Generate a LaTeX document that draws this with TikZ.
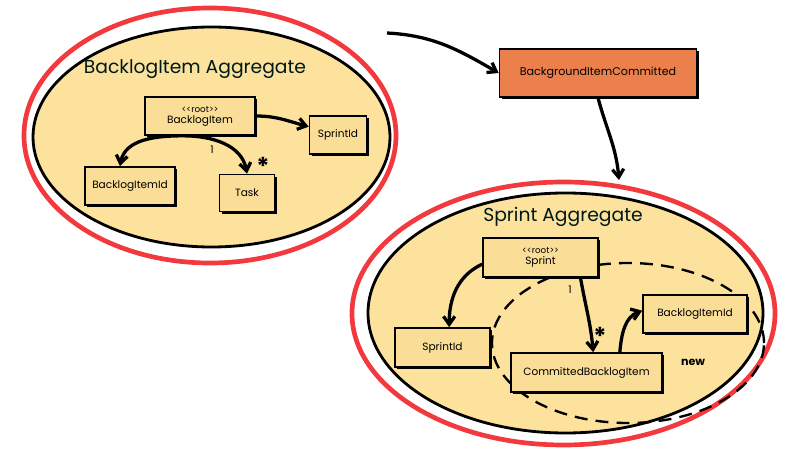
\documentclass[tikz,border=0pt]{standalone}
\usepackage{fontspec}
\setmainfont{Poppins}
\usetikzlibrary{shapes.geometric,arrows.meta,shadows}
\definecolor{ringRed}{RGB}{242,58,62}
\definecolor{aggFill}{RGB}{252,226,156}
\definecolor{boxFill}{RGB}{250,221,150}
\definecolor{eventFill}{RGB}{236,128,76}
\begin{document}
\begin{tikzpicture}[x=0.03cm, y=-0.03cm, >={Straight Barb[length=2.4mm,width=3.4mm]},
    ringStyle/.style={ellipse, draw=ringRed, line width=4pt, fill=white, inner sep=0pt},
    aggStyle/.style={ellipse, draw, line width=2.4pt, fill=aggFill, inner sep=0pt},
    newStyle/.style={ellipse, draw, dash pattern=on 11pt off 7pt, line width=2pt, inner sep=0pt},
    boxStyle/.style={rectangle, draw, line width=1.4pt, fill=boxFill, align=center, font=\fontsize{9}{9.5}\selectfont, inner sep=1pt,
        drop shadow={shadow xshift=0.07cm, shadow yshift=-0.07cm, fill=black, opacity=1}},
    eventStyle/.style={boxStyle, fill=eventFill, font=\fontsize{9.5}{10}\selectfont},
    titleStyle/.style={font=\fontsize{16}{17}\selectfont, text=black!80!teal},
    multStyle/.style={font=\fontsize{9}{10}\selectfont},
    manyStyle/.style={font=\fontsize{21}{21}\selectfont\bfseries},
    linkStyle/.style={->, line width=2.8pt}]
    \useasboundingbox (0,0) rectangle (800,458);

    % BacklogItem aggregate
    \node[ringStyle, minimum width=11.16cm, minimum height=7.65cm] (bl_ring) at (210, 135.5) {};
    \node[aggStyle,  minimum width=10.71cm, minimum height=6.6cm]  (bl_agg)  at (211.5, 137) {};
    \node[titleStyle] (bl_title) at (195, 69) {BacklogItem Aggregate};

    \node[boxStyle, minimum width=3.3cm,  minimum height=1.14cm] (bl_root)     at (200, 116) {{\fontsize{7.5}{7.5}\selectfont <{}<root>{}>}\\BacklogItem};
    \node[boxStyle, minimum width=1.71cm, minimum height=1.14cm] (bl_sprintid) at (338, 135) {SprintId};
    \node[boxStyle, minimum width=2.7cm,  minimum height=1.14cm] (bl_itemid)   at (130, 186) {BacklogItemId};
    \node[boxStyle, minimum width=1.65cm, minimum height=1.11cm] (bl_task)     at (247, 193) {Task};

    \draw[linkStyle] ([xshift=-0.5cm]bl_root.south) to[out=180, in=80] ([xshift=-0.3cm]bl_itemid.north);
    \draw[linkStyle] ([xshift=-0.5cm]bl_root.south) to[out=0, in=100] (bl_task.north);
    \draw[linkStyle] (bl_root.east) to[out=0, in=165] ([yshift=0.25cm]bl_sprintid.west);
    \node[multStyle] (bl_one)  at (212, 150) {1};
    \node[manyStyle] (bl_many) at (263, 166) {*};

    % domain event
    \coordinate (ev_start) at (387, 33);
    \coordinate (ev_end)   at (619, 180);
    \node[eventStyle, minimum width=5.91cm, minimum height=1.44cm] (ev_committed) at (598, 73) {BackgroundItemCommitted};
    \draw[linkStyle] (ev_start) to[out=-3, in=150] (ev_committed.west);
    \draw[linkStyle] (ev_committed.south) to[out=-75, in=95] (ev_end);

    % Sprint aggregate
    \node[ringStyle, minimum width=12.69cm, minimum height=7.89cm] (sp_ring) at (563.5, 313.5) {};
    \node[aggStyle,  minimum width=11.85cm, minimum height=7.2cm]  (sp_agg)  at (565.5, 313) {};
    \node[titleStyle] (sp_title) at (563, 217) {Sprint Aggregate};
    \node[newStyle, minimum width=8.16cm, minimum height=4.8cm] (sp_new) at (628, 343) {};

    \node[boxStyle, minimum width=3.45cm, minimum height=1.17cm] (sp_root)      at (540.5, 257.5) {{\fontsize{7.5}{7.5}\selectfont <{}<root>{}>}\\Sprint};
    \node[boxStyle, minimum width=2.85cm, minimum height=1.17cm] (sp_sprintid)  at (442.5, 347.5) {SprintId};
    \node[boxStyle, minimum width=4.53cm, minimum height=1.17cm] (sp_committed) at (586.5, 372.5) {CommittedBacklogItem};
    \node[boxStyle, minimum width=3.12cm, minimum height=1.14cm] (sp_itemid)    at (695, 314) {BacklogItemId};
    \node[font=\fontsize{9.5}{10}\selectfont\bfseries] (sp_newlabel) at (693, 362) {new};

    \draw[linkStyle] ([yshift=-0.2cm]sp_root.west) to[out=205, in=90] ([xshift=0.2cm]sp_sprintid.north);
    \draw[linkStyle] ([xshift=1.2cm]sp_root.south) to[out=-80, in=95] ([xshift=0.2cm]sp_committed.north);
    \draw[linkStyle] ([xshift=1cm]sp_committed.north) to[out=85, in=200] ([yshift=0.1cm]sp_itemid.west);
    \node[multStyle] (sp_one)  at (570, 290) {1};
    \node[manyStyle] (sp_many) at (600, 336) {*};
\end{tikzpicture}
\end{document}
